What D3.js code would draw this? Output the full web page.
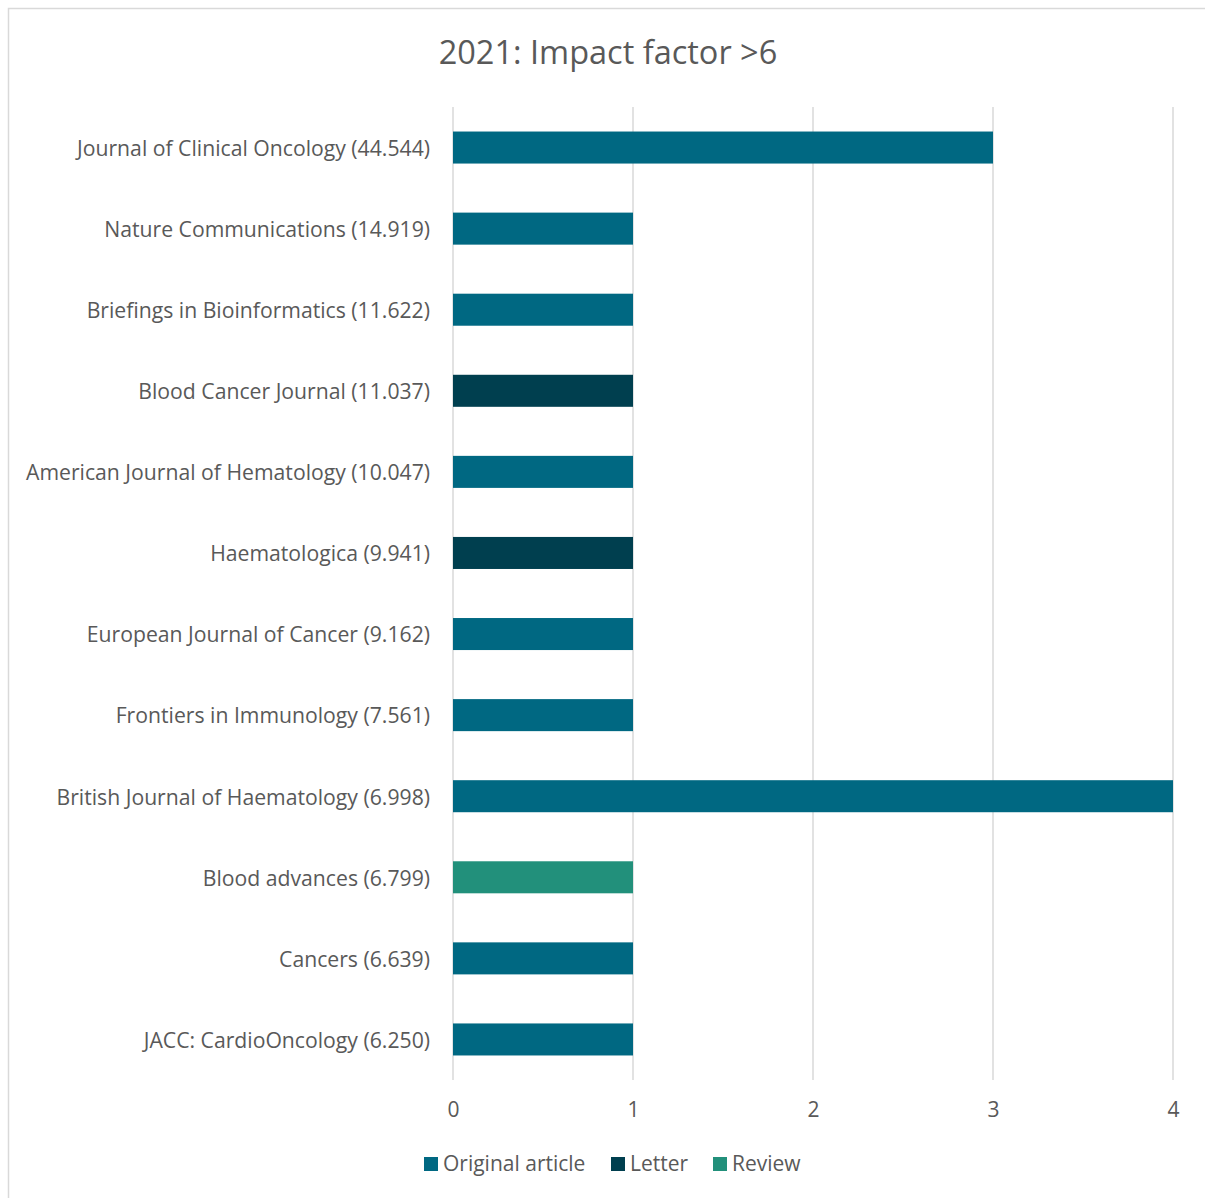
<!DOCTYPE html>
<html>
<head>
<meta charset="utf-8">
<script src="https://cdn.jsdelivr.net/npm/d3@7"></script>
<style>
  body { margin: 0; background: #fff; }
  svg { display: block; }
</style>
</head>
<body>
<svg id="chart"></svg>
<script>
const journals = [
  'Journal of Clinical Oncology (44.544)',
  'Nature Communications (14.919)',
  'Briefings in Bioinformatics (11.622)',
  'Blood Cancer Journal (11.037)',
  'American Journal of Hematology (10.047)',
  'Haematologica (9.941)',
  'European Journal of Cancer (9.162)',
  'Frontiers in Immunology (7.561)',
  'British Journal of Haematology (6.998)',
  'Blood advances (6.799)',
  'Cancers (6.639)',
  'JACC: CardioOncology (6.250)'
];
const originalArticle = [3, 1, 1, 0, 1, 0, 1, 1, 4, 0, 1, 1];
const letter          = [0, 0, 0, 1, 0, 1, 0, 0, 0, 0, 0, 0];
const review          = [0, 0, 0, 0, 0, 0, 0, 0, 0, 1, 0, 0];
const seriesNames = ['Original article', 'Letter', 'Review'];
const seriesColors = ['#006882', '#003f4f', '#22907b'];
const xTicks = [0, 1, 2, 3, 4];

const width = 1205, height = 1198;
const font = "'Open Sans', sans-serif";
const textColor = '#595959';

const svg = d3.select('#chart').attr('width', width).attr('height', height);

// chart border
svg.append('rect')
  .attr('x', 8.5).attr('y', 8.5)
  .attr('width', width + 10).attr('height', height + 10)
  .attr('fill', 'none').attr('stroke', '#d9d9d9').attr('stroke-width', 1.5);

svg.append('text')
  .attr('x', 608).attr('y', 64)
  .attr('text-anchor', 'middle')
  .style('font-family', font).style('font-size', '32.5px').style('fill', textColor)
  .text('2021: Impact factor >6');

const margin = { top: 107, left: 453, right: 1173, bottom: 1080 };

const x = d3.scaleLinear().domain([0, 4]).range([margin.left, margin.right]);
const y = d3.scaleBand().domain(journals).range([margin.top, margin.bottom])
  .paddingInner(0.605).paddingOuter(0.3025);

// gridlines
svg.append('g')
  .selectAll('line').data(xTicks).join('line')
  .attr('x1', d => x(d)).attr('x2', d => x(d))
  .attr('y1', margin.top).attr('y2', margin.bottom)
  .attr('stroke', '#d9d9d9').attr('stroke-width', 1.5);

// stacked bars
const rows = journals.map((j, i) => ({ journal: j, 'Original article': originalArticle[i], 'Letter': letter[i], 'Review': review[i] }));
const stack = d3.stack().keys(seriesNames)(rows);
const color = d3.scaleOrdinal().domain(seriesNames).range(seriesColors);

svg.append('g').selectAll('g').data(stack).join('g')
  .attr('fill', d => color(d.key))
  .selectAll('rect').data(d => d).join('rect')
  .attr('x', d => x(d[0]))
  .attr('width', d => x(d[1]) - x(d[0]))
  .attr('y', d => y(d.data.journal))
  .attr('height', y.bandwidth());

// category labels
const yAxis = svg.append('g')
  .attr('transform', `translate(${margin.left},1.5)`)
  .call(d3.axisLeft(y).tickSize(0).tickPadding(23));
yAxis.select('.domain').remove();
yAxis.selectAll('text')
  .style('font-family', font).style('font-size', '21.2px').style('fill', textColor);

// x axis
const xAxis = svg.append('g')
  .attr('transform', `translate(0,${margin.bottom})`)
  .call(d3.axisBottom(x).tickValues(xTicks).tickFormat(d3.format('d')).tickSize(0).tickPadding(22));
xAxis.select('.domain').remove();
xAxis.selectAll('text')
  .style('font-family', font).style('font-size', '21px').style('fill', textColor);

// legend
const legendX = [424, 611, 713];
const legend = svg.append('g').selectAll('g').data(seriesNames).join('g')
  .attr('transform', (d, i) => `translate(${legendX[i]},1164)`);
legend.append('rect')
  .attr('x', 0).attr('y', -7).attr('width', 14).attr('height', 14)
  .attr('fill', d => color(d));
legend.append('text')
  .attr('x', 19).attr('y', 0).attr('dy', '0.35em')
  .style('font-family', font).style('font-size', '21px').style('fill', textColor)
  .text(d => d);
</script>
</body>
</html>
